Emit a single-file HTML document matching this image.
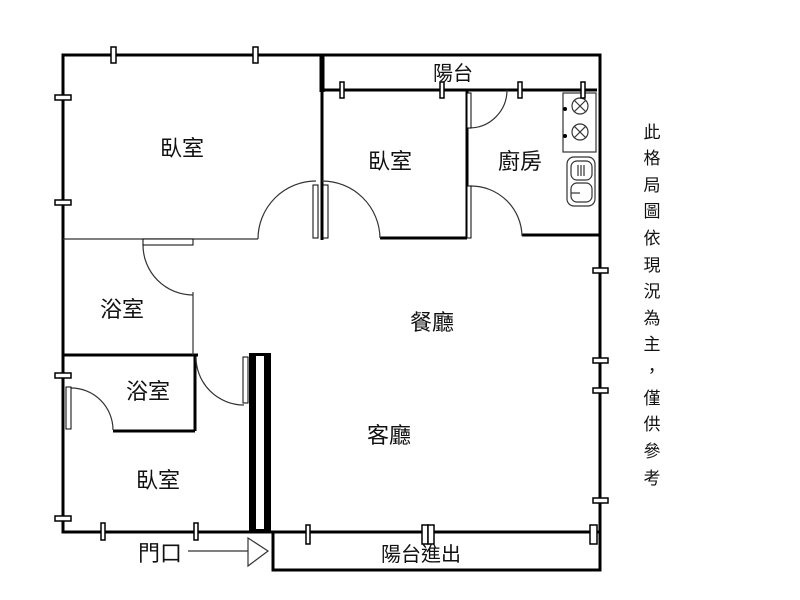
<!DOCTYPE html>
<html><head><meta charset="utf-8"><style>body{margin:0;background:#fff}svg{display:block}text{font-family:"Liberation Sans","Noto Sans CJK TC",sans-serif;fill:#111}</style></head><body>
<svg width="800" height="600" viewBox="0 0 800 600">
<g stroke="#000" fill="none" stroke-width="3">
<polyline points="322,55 63,55 63,532 273,532"/>
<polyline points="322,55 600,55 600,570 273,570 273,532 600,532"/>
<line x1="322" y1="90" x2="597" y2="90"/>
<line x1="322" y1="55" x2="322" y2="240"/>
<line x1="322" y1="55" x2="322" y2="92" stroke-width="5"/>
<line x1="380" y1="238" x2="467" y2="238"/>
<line x1="467" y1="90" x2="467" y2="238"/>
<line x1="522" y1="235" x2="600" y2="235"/>
<line x1="63" y1="355" x2="198" y2="355"/>
<line x1="195" y1="355" x2="195" y2="431"/>
<line x1="113" y1="431" x2="195" y2="431"/>
</g>
<g stroke="#333" fill="none" stroke-width="1.2">
<line x1="63" y1="239" x2="258" y2="239"/>
<path d="M258,239 A58,58 0 0 1 316,181"/>
<path d="M322,181 A58,58 0 0 1 380,238"/>
<path d="M470,128 A38,38 0 0 0 507,90"/>
<path d="M471,186 A51,51 0 0 1 522,236"/>
<path d="M143,245 A50,50 0 0 0 193,295"/>
<line x1="193" y1="292" x2="193" y2="355"/>
<path d="M71,388 A42,42 0 0 1 113,430"/>
<path d="M196,357 A48,48 0 0 0 244,405"/>
<line x1="188" y1="551" x2="248" y2="551"/>
<polygon points="248,538 268,551 248,566"/>
<rect x="563" y="93" width="33" height="59"/>
<rect x="567" y="157" width="28" height="49" rx="7"/>
<rect x="571" y="161" width="21" height="19" rx="6"/>
<rect x="571" y="183" width="21" height="19" rx="6"/>
<line x1="578" y1="165" x2="578" y2="176"/><line x1="581" y1="165" x2="581" y2="176"/><line x1="584" y1="165" x2="584" y2="176"/>
<line x1="571" y1="193" x2="580" y2="193"/>
<circle cx="580" cy="106" r="8"/><circle cx="580" cy="132" r="8"/>
<path d="M574,100 L586,112 M586,100 L574,112 M574,126 L586,138 M586,126 L574,138"/>
</g>
<circle cx="565" cy="109" r="2" fill="#000"/><circle cx="565" cy="136" r="2" fill="#000"/>
<g stroke="#000" fill="#fff" stroke-width="1.5">
<rect x="111" y="47" width="5" height="16"/><rect x="253" y="47" width="5" height="16"/>
<rect x="55" y="95" width="16" height="5"/><rect x="55" y="200" width="16" height="5"/>
<rect x="55" y="373" width="16" height="5"/><rect x="55" y="516" width="16" height="5"/>
<rect x="340" y="82" width="4" height="16"/><rect x="440" y="82" width="4" height="16"/>
<rect x="518" y="82" width="4" height="16"/><rect x="581" y="82" width="4" height="16"/>
<rect x="101" y="523" width="4" height="17"/><rect x="194" y="523" width="4" height="17"/>
<rect x="306" y="525" width="4" height="19"/><rect x="422" y="525" width="6" height="19"/><rect x="428" y="525" width="6" height="19"/>
<rect x="590" y="525" width="7" height="19"/>
<rect x="593" y="268" width="15" height="5"/><rect x="593" y="358" width="15" height="5"/>
<rect x="593" y="388" width="15" height="5"/><rect x="593" y="498" width="15" height="5"/>
<rect x="313" y="185" width="5" height="53" stroke-width="1"/><rect x="323" y="185" width="5" height="53" stroke-width="1"/>
<rect x="467" y="93" width="4" height="35" stroke-width="1"/><rect x="467" y="186" width="4" height="52" stroke-width="1"/>
<rect x="143" y="239" width="50" height="6" stroke-width="1"/>
<rect x="66" y="387" width="5" height="42" stroke-width="1"/>
<rect x="243" y="357" width="5" height="46" stroke-width="1"/>
</g>
<rect x="249" y="353" width="22" height="179" fill="#000"/>
<rect x="256" y="356" width="8" height="173" fill="#fff"/>
<g font-size="22" text-anchor="middle">
<text x="182" y="156">臥室</text><text x="390" y="169">臥室</text><text x="520" y="169">廚房</text>
<text x="453" y="80" font-size="20">陽台</text>
<text x="122" y="317">浴室</text><text x="148" y="399">浴室</text><text x="158" y="488">臥室</text>
<text x="432" y="330">餐廳</text><text x="389" y="443">客廳</text>
<text x="160" y="561">門口</text><text x="421" y="561" font-size="20">陽台進出</text>
</g>
<g font-size="17" text-anchor="middle">
<text x="652" y="138">此</text><text x="652" y="164">格</text><text x="652" y="191">局</text><text x="652" y="217">圖</text>
<text x="652" y="244">依</text><text x="652" y="271">現</text><text x="652" y="297">況</text><text x="652" y="324">為</text>
<text x="652" y="350">主</text><text x="652" y="377">，</text><text x="652" y="404">僅</text><text x="652" y="430">供</text>
<text x="652" y="457">參</text><text x="652" y="484">考</text>
</g>
</svg>
</body></html>
